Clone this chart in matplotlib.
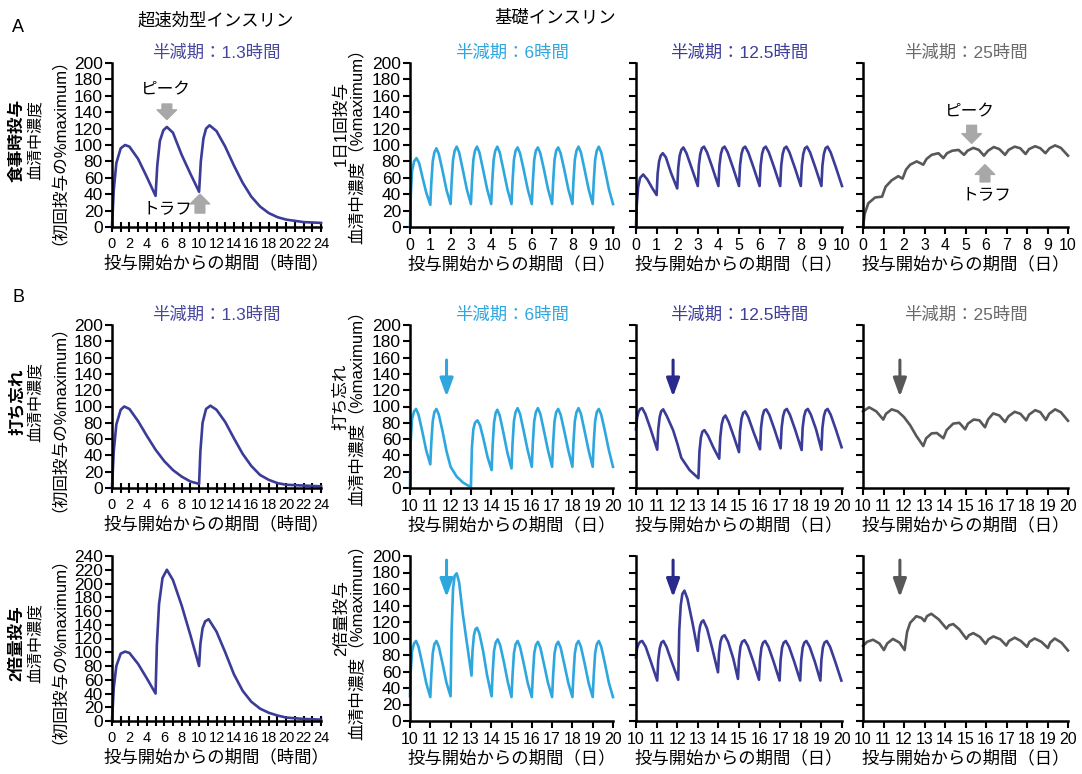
import matplotlib
matplotlib.use("Agg")
import matplotlib.pyplot as plt

plt.rcParams["font.family"] = ["Liberation Sans", "Noto Sans CJK JP"]

NAVY = "#3b3b98"
SKY = "#2ea7df"
GRAY = "#585858"
ARROW_GRAY = "#a8a8a8"

# ---- 超速効型（時間） ----
a1_hours = [0, 0.2, 0.5, 1.0, 1.5, 2.0, 3.0, 4.0, 5.0, 5.2, 5.5, 5.9, 6.3, 7.0, 8.0, 9.0, 10.0,
            10.2, 10.5, 10.8, 11.2, 12.0, 13.0, 14.0, 15.0, 16.0, 17.0, 18.0, 19.0, 20.0, 22.0, 24.0]
a1_conc = [0, 45, 78, 96, 100, 98, 83, 61, 38, 75, 105, 118, 122, 115, 88, 65, 43,
           80, 108, 120, 124, 117, 98, 75, 54, 37, 25, 17, 12, 9, 6, 5]

b1_hours = [0, 0.2, 0.5, 1.0, 1.4, 2.0, 3.0, 4.0, 5.0, 6.0, 7.0, 8.0, 9.0, 10.0,
            10.15, 10.4, 10.8, 11.3, 12.0, 13.0, 14.0, 15.0, 16.0, 17.0, 18.0, 19.0, 20.0, 22.0, 24.0]
b1_conc = [0, 45, 78, 96, 100, 97, 82, 64, 47, 33, 22, 14, 8, 5,
           45, 80, 97, 101, 96, 81, 61, 42, 27, 16, 10, 6, 4, 3, 2]

c1_hours = [0, 0.2, 0.5, 1.0, 1.5, 2.0, 3.0, 4.0, 5.0, 5.15, 5.4, 5.8, 6.3, 7.0, 8.0, 9.0, 10.0,
            10.15, 10.4, 10.7, 11.1, 12.0, 13.0, 14.0, 15.0, 16.0, 17.0, 18.0, 19.0, 20.0, 22.0, 24.0]
c1_conc = [0, 48, 80, 98, 101, 99, 83, 62, 40, 110, 170, 208, 220, 205, 168, 125, 80,
           112, 135, 145, 148, 130, 100, 68, 44, 28, 18, 12, 8, 5, 3, 2]

# ---- 半減期 6時間（日） ----
a2_days = [0, 0.04, 0.1, 0.2, 0.32, 0.45, 0.62, 0.8,
           1, 1.05, 1.12, 1.2, 1.3, 1.42, 1.6, 1.8,
           2, 2.05, 2.12, 2.2, 2.3, 2.42, 2.6, 2.8,
           3, 3.05, 3.12, 3.2, 3.3, 3.42, 3.6, 3.8,
           4, 4.05, 4.12, 4.2, 4.3, 4.42, 4.6, 4.8,
           5, 5.05, 5.12, 5.2, 5.3, 5.42, 5.6, 5.8,
           6, 6.05, 6.12, 6.2, 6.3, 6.42, 6.6, 6.8,
           7, 7.05, 7.12, 7.2, 7.3, 7.42, 7.6, 7.8,
           8, 8.05, 8.12, 8.2, 8.3, 8.42, 8.6, 8.8,
           9, 9.05, 9.12, 9.2, 9.3, 9.42, 9.6, 9.8,
           10]
a2_conc = [0, 40, 68, 80, 84, 78, 60, 42,
           27, 54, 80, 91, 96, 89, 69, 45,
           28, 55, 82, 93, 98, 91, 70, 46,
           28, 55, 82, 93, 98, 91, 70, 46,
           28, 55, 82, 93, 98, 91, 70, 46,
           28, 55, 82, 93, 97, 90, 70, 46,
           28, 55, 82, 93, 97, 90, 70, 46,
           28, 55, 82, 93, 97, 90, 70, 46,
           28, 55, 82, 93, 98, 91, 70, 46,
           28, 55, 82, 93, 98, 91, 70, 46,
           28]

b2_days = [10, 10.03, 10.1, 10.2, 10.3, 10.42, 10.6, 10.8,
           11, 11.05, 11.12, 11.2, 11.3, 11.42, 11.6, 11.8,
           12.0, 12.3, 12.62, 13.0,
           13.05, 13.12, 13.2, 13.32, 13.45, 13.62, 13.82,
           14.02, 14.07, 14.14, 14.22, 14.3, 14.42, 14.6, 14.8,
           15, 15.05, 15.12, 15.2, 15.3, 15.42, 15.6, 15.8,
           16, 16.05, 16.12, 16.2, 16.3, 16.42, 16.6, 16.8,
           17, 17.05, 17.12, 17.2, 17.3, 17.42, 17.6, 17.8,
           18, 18.05, 18.12, 18.2, 18.3, 18.42, 18.6, 18.8,
           19, 19.05, 19.12, 19.2, 19.3, 19.42, 19.6, 19.8,
           20]
b2_conc = [0, 55, 85, 94, 97, 90, 70, 46,
           29, 56, 82, 93, 97, 90, 70, 45,
           26, 14, 6.5, 1,
           50, 72, 80, 83, 77, 60, 38,
           22, 52, 80, 92, 96, 89, 68, 43,
           24, 54, 82, 93, 98, 91, 70, 46,
           26, 55, 82, 93, 98, 91, 70, 46,
           26, 55, 82, 93, 97, 90, 70, 46,
           26, 55, 82, 93, 98, 91, 70, 46,
           26, 55, 82, 93, 97, 90, 70, 46,
           26]

c2_days = [10, 10.03, 10.1, 10.2, 10.3, 10.42, 10.6, 10.8,
           11, 11.05, 11.12, 11.2, 11.3, 11.42, 11.6, 11.8,
           12, 12.05, 12.12, 12.2, 12.3, 12.42, 12.6, 12.8,
           13.03, 13.08, 13.15, 13.22, 13.3, 13.42, 13.6, 13.8,
           14.02, 14.07, 14.14, 14.22, 14.32, 14.44, 14.62, 14.82,
           15, 15.05, 15.12, 15.2, 15.3, 15.42, 15.6, 15.8,
           16, 16.05, 16.12, 16.2, 16.3, 16.42, 16.6, 16.8,
           17, 17.05, 17.12, 17.2, 17.3, 17.42, 17.6, 17.8,
           18, 18.05, 18.12, 18.2, 18.3, 18.42, 18.6, 18.8,
           19, 19.05, 19.12, 19.2, 19.3, 19.42, 19.6, 19.8,
           20]
c2_conc = [30, 58, 85, 94, 97, 90, 70, 46,
           29, 56, 82, 93, 97, 90, 70, 46,
           30, 110, 160, 176, 179, 168, 130, 95,
           55, 85, 104, 111, 113, 106, 85, 55,
           30, 58, 85, 95, 99, 92, 72, 47,
           29, 55, 82, 93, 97, 90, 70, 46,
           29, 55, 82, 92, 96, 89, 69, 46,
           29, 55, 82, 92, 96, 89, 69, 46,
           29, 55, 82, 93, 97, 90, 70, 46,
           29, 55, 82, 93, 97, 90, 70, 46,
           29]

# ---- 半減期 12.5時間（日） ----
a3_days = [0, 0.04, 0.1, 0.2, 0.35, 0.55, 0.8,
           1, 1.05, 1.12, 1.2, 1.3, 1.45, 1.7,
           2, 2.05, 2.12, 2.2, 2.3, 2.45, 2.7,
           3, 3.05, 3.12, 3.2, 3.3, 3.45, 3.7,
           4, 4.05, 4.12, 4.2, 4.3, 4.45, 4.7,
           5, 5.05, 5.12, 5.2, 5.3, 5.45, 5.7,
           6, 6.05, 6.12, 6.2, 6.3, 6.45, 6.7,
           7, 7.05, 7.12, 7.2, 7.3, 7.45, 7.7,
           8, 8.05, 8.12, 8.2, 8.3, 8.45, 8.7,
           9, 9.05, 9.12, 9.2, 9.3, 9.45, 9.7,
           10]
a3_conc = [0, 28, 48, 60, 64, 58, 47,
           39, 65, 80, 87, 90, 85, 66,
           47, 72, 87, 94, 97, 90, 72,
           50, 75, 89, 96, 98, 91, 73,
           50, 75, 89, 96, 98, 91, 73,
           50, 75, 89, 96, 98, 91, 73,
           50, 75, 89, 96, 98, 91, 73,
           50, 75, 89, 96, 98, 91, 73,
           50, 75, 89, 96, 98, 91, 73,
           50, 75, 89, 96, 98, 91, 73,
           50]

b3_days = [10, 10.05, 10.12, 10.2, 10.3, 10.45, 10.7,
           11.03, 11.08, 11.15, 11.22, 11.32, 11.5, 11.8,
           12.0, 12.2, 12.6, 13.03,
           13.08, 13.15, 13.22, 13.32, 13.5, 13.75,
           14.04, 14.09, 14.16, 14.24, 14.34, 14.5, 14.75,
           15.0, 15.05, 15.12, 15.2, 15.3, 15.45, 15.7,
           16.02, 16.07, 16.14, 16.22, 16.32, 16.47, 16.72,
           17.02, 17.07, 17.14, 17.22, 17.32, 17.47, 17.72,
           18.04, 18.09, 18.16, 18.24, 18.34, 18.49, 18.74,
           19.0, 19.05, 19.12, 19.2, 19.3, 19.45, 19.7,
           19.98]
b3_conc = [72, 86, 93, 97, 98, 91, 73,
           47, 72, 87, 94, 96.5, 88, 71,
           55, 37, 22, 12,
           45, 62, 69, 71, 64, 50,
           36, 62, 78, 86, 89, 81, 63,
           44, 70, 85, 92, 94, 87, 69,
           47.5, 74, 88, 95, 96.5, 90, 72,
           48.7, 74, 88, 95, 97, 90, 72,
           46.6, 74, 88, 95, 97, 90, 72,
           47, 74, 88, 95, 97, 90, 72,
           50]

c3_days = [10, 10.05, 10.12, 10.2, 10.3, 10.47, 10.72,
           11.03, 11.08, 11.15, 11.23, 11.33, 11.48, 11.73,
           12.05, 12.1, 12.17, 12.25, 12.35, 12.5, 12.75,
           13.0, 13.05, 13.11, 13.18, 13.27, 13.45, 13.7,
           13.98, 14.03, 14.1, 14.18, 14.3, 14.47, 14.72,
           14.95, 15.0, 15.07, 15.15, 15.27, 15.43, 15.68,
           15.97, 16.02, 16.09, 16.17, 16.27, 16.43, 16.68,
           16.97, 17.02, 17.09, 17.17, 17.27, 17.43, 17.68,
           17.97, 18.02, 18.09, 18.17, 18.27, 18.43, 18.68,
           18.95, 19.0, 19.07, 19.15, 19.26, 19.42, 19.67,
           19.97]
c3_conc = [77, 88, 93, 96, 97, 90, 72,
           49, 74, 88, 95, 97, 90, 72,
           50, 110, 140, 154, 158, 148, 118,
           85, 105, 115, 120, 122, 112, 88,
           59, 82, 96, 102, 104, 96, 76,
           51, 75, 90, 96, 98, 91, 73,
           50, 74, 89, 95, 97, 90, 72,
           49, 74, 89, 95, 97, 90, 72,
           49, 74, 89, 95, 97, 90, 72,
           49, 74, 89, 95, 97, 90, 72,
           49]

# ---- 半減期 25時間（日） ----
a4_days = [0, 0.08, 0.26, 0.59, 0.93, 1.1, 1.4, 1.72, 1.93, 2.1, 2.3, 2.62, 2.94,
           3.1, 3.35, 3.68, 3.92, 4.1, 4.35, 4.66, 4.93, 5.1, 5.38, 5.65, 5.9,
           6.1, 6.38, 6.65, 6.93, 7.1, 7.4, 7.67, 7.93, 8.1, 8.4, 8.65, 8.9,
           9.1, 9.37, 9.65, 10]
a4_conc = [0, 16, 29, 36, 37, 49, 57, 62, 59, 70, 76, 80, 76,
           83, 88, 90, 84, 90, 93, 94, 88, 93, 96.5, 94, 87,
           93, 97.5, 95, 88, 94, 98, 96, 89, 95, 98.5, 96, 90,
           96, 99.5, 96.5, 87]

b4_days = [10, 10.3, 10.65, 10.99, 11.12, 11.4, 11.7, 12.0, 12.3, 12.6, 12.94,
           13.08, 13.35, 13.6, 13.92, 14.08, 14.4, 14.7, 14.98, 15.12, 15.4, 15.68, 15.95,
           16.1, 16.35, 16.65, 16.93, 17.1, 17.4, 17.68, 17.96, 18.1, 18.4, 18.65, 18.92,
           19.08, 19.37, 19.65, 20]
b4_conc = [94, 99, 94, 84, 91, 96.5, 94, 87, 77, 64, 51.5,
           61, 67, 67.5, 61, 71, 79, 80, 72, 79, 84, 83, 74.5,
           84, 91.5, 89, 81, 88, 93.5, 91, 83, 90, 95.5, 93, 83.5,
           91, 96.5, 93, 82.5]

c4_days = [10, 10.2, 10.49, 10.8, 11.02, 11.18, 11.46, 11.78, 12.03, 12.15, 12.3, 12.6, 12.85,
           13.0, 13.12, 13.33, 13.7, 14.07, 14.2, 14.4, 14.7, 15.04, 15.17, 15.38, 15.7,
           15.98, 16.12, 16.36, 16.7, 16.99, 17.12, 17.4, 17.7, 18.0, 18.12, 18.37, 18.7,
           19.02, 19.13, 19.35, 19.68, 20]
c4_conc = [91, 96, 98.5, 94, 86, 94, 99.5, 95, 86, 108, 119, 127, 125,
           121, 127, 130, 123, 112, 116, 117.5, 111, 99.6, 104, 106.5, 102,
           93.5, 99, 102.5, 99, 91.5, 97, 101, 97, 90, 96, 100, 96,
           88.5, 95, 100, 95, 85.5]

titles = ["半減期：1.3時間", "半減期：6時間", "半減期：12.5時間", "半減期：25時間"]
title_colors = ["#4747a0", "#2ea7df", "#3d3d9a", "#6a6a6a"]
line_colors = [NAVY, SKY, NAVY, GRAY]
arrow_colors = [None, SKY, "#2a2a8c", GRAY]
row_names = ["食事時投与", "打ち忘れ", "2倍量投与"]
mid_names = ["1日1回投与", "打ち忘れ", "2倍量投与"]
missed_day = 11.8

W, H = 1082, 774
fig = plt.figure(figsize=(W / 100, H / 100), dpi=100)

cols = [(112, 321), (410, 613), (636, 842), (863, 1068)]
rows = [(63, 227), (325, 488), (556, 721)]

data = [
    [(a1_hours, a1_conc), (a2_days, a2_conc), (a3_days, a3_conc), (a4_days, a4_conc)],
    [(b1_hours, b1_conc), (b2_days, b2_conc), (b3_days, b3_conc), (b4_days, b4_conc)],
    [(c1_hours, c1_conc), (c2_days, c2_conc), (c3_days, c3_conc), (c4_days, c4_conc)],
]


def px_axes(x0, x1, y0, y1):
    return fig.add_axes([x0 / W, 1 - y1 / H, (x1 - x0) / W, (y1 - y0) / H])


def fx(x):
    return x / W


def fy(y):
    return 1 - y / H


axes = {}
for r, (y0, y1) in enumerate(rows):
    for c, (x0, x1) in enumerate(cols):
        ax = px_axes(x0, x1, y0, y1)
        axes[r, c] = ax
        ax.patch.set_alpha(0)
        for s in ("top", "right"):
            ax.spines[s].set_visible(False)
        for s in ("left", "bottom"):
            ax.spines[s].set_linewidth(1.8)
        ymax = 240 if (r == 2 and c == 0) else 200
        ax.set_ylim(0, ymax)
        ax.set_yticks(range(0, ymax + 1, 20))
        ax.tick_params(axis="y", direction="out", length=5, width=1.5, labelsize=12.5, pad=1.5)
        if c >= 2:
            ax.tick_params(axis="y", labelleft=False)
        if c == 0:
            ax.set_xlim(0, 24)
            ax.set_xticks(range(0, 25, 2))
            ax.set_xticks(range(25), minor=True)
            ax.tick_params(axis="x", which="both", direction="inout", length=7, width=1.5,
                           labelsize=10.5, pad=4)
            ax.set_xlabel("投与開始からの期間（時間）", fontsize=12.5, labelpad=2)
        else:
            start = 0 if r == 0 else 10
            ax.set_xlim(start, start + 10)
            ax.set_xticks(range(start, start + 11))
            ax.tick_params(axis="x", direction="out", length=5, width=1.5,
                           labelsize=11.5, pad=3)
            ax.set_xlabel("投与開始からの期間（日）", fontsize=12.5, labelpad=2)
        x, v = data[r][c]
        ax.plot(x, v, color=line_colors[c], lw=1.9, solid_joinstyle="round", clip_on=False)
        if r < 2:
            ax.set_title(titles[c], color=title_colors[c], fontsize=12.5, pad=4)
        if r > 0 and c > 0:
            ax.annotate("", xy=(missed_day, 112 if r == 1 else 150),
                        xytext=(missed_day, 157 if r == 1 else 195),
                        arrowprops=dict(arrowstyle="-|>,head_length=1.1,head_width=0.4",
                                        color=arrow_colors[c], lw=2.2, mutation_scale=10,
                                        shrinkA=0, shrinkB=0))

# ピーク / トラフ
block = dict(arrowstyle="simple,head_length=0.7,head_width=1.4,tail_width=0.7",
             color=ARROW_GRAY, mutation_scale=10, shrinkA=0, shrinkB=0)
ax = axes[0, 0]
ax.annotate("", xy=(6.3, 131), xytext=(6.3, 150), arrowprops=block)
ax.text(6.2, 167, "ピーク", ha="center", va="center", fontsize=12)
ax.annotate("", xy=(10.1, 40), xytext=(10.1, 17), arrowprops=block)
ax.text(6.4, 23, "トラフ", ha="center", va="center", fontsize=12)
ax = axes[0, 3]
ax.annotate("", xy=(5.3, 102), xytext=(5.3, 124), arrowprops=block)
ax.text(5.2, 140, "ピーク", ha="center", va="center", fontsize=12)
ax.annotate("", xy=(5.95, 76), xytext=(5.95, 55), arrowprops=block)
ax.text(6.0, 39, "トラフ", ha="center", va="center", fontsize=12)

# headers
fig.text(fx(18), fy(28), "A", fontsize=13, ha="center", va="center")
fig.text(fx(18), fy(297), "B", fontsize=13, ha="center", va="center")
fig.text(fx(216), fy(20), "超速効型インスリン", fontsize=12.5, ha="center", va="center")
fig.text(fx(555), fy(18), "基礎インスリン", fontsize=12.5, ha="center", va="center")

# row labels
left_centers = [(140, 143), (402, 410), (643, 642)]
mid_centers = [(123, 142), (397, 404), (618, 638)]
for r in range(3):
    yc, yc2 = left_centers[r]
    fig.text(fx(17), fy(yc), row_names[r], rotation=90, fontsize=12, fontweight="bold",
             ha="center", va="center")
    fig.text(fx(35), fy(yc), "血清中濃度", rotation=90, fontsize=11.5, ha="center", va="center")
    fig.text(fx(51), fy(yc2), "（初回投与の%maximum）", rotation=90, fontsize=12,
             ha="center", va="center")
    m1, m2 = mid_centers[r]
    fig.text(fx(341), fy(m1), mid_names[r], rotation=90, fontsize=12, ha="center", va="center")
    fig.text(fx(357), fy(m2), "血清中濃度（%maximum）", rotation=90, fontsize=12,
             ha="center", va="center")

fig.savefig("out.png", dpi=100)
